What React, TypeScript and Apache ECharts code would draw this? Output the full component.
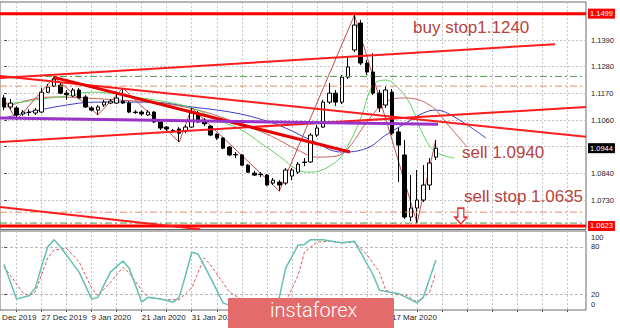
import React, { useEffect, useRef } from "react";
import * as echarts from "echarts";

// ---------- data ----------
const dates = [
  "18 Dec 2019", "19 Dec 2019", "20 Dec 2019", "23 Dec 2019", "24 Dec 2019", "26 Dec 2019",
  "27 Dec 2019", "30 Dec 2019", "31 Dec 2019", "2 Jan 2020", "3 Jan 2020", "6 Jan 2020",
  "7 Jan 2020", "8 Jan 2020", "9 Jan 2020", "10 Jan 2020", "13 Jan 2020", "14 Jan 2020",
  "15 Jan 2020", "16 Jan 2020", "17 Jan 2020", "20 Jan 2020", "21 Jan 2020", "22 Jan 2020",
  "23 Jan 2020", "24 Jan 2020", "27 Jan 2020", "28 Jan 2020", "29 Jan 2020", "30 Jan 2020",
  "31 Jan 2020", "3 Feb 2020", "4 Feb 2020", "5 Feb 2020", "6 Feb 2020", "7 Feb 2020",
  "10 Feb 2020", "11 Feb 2020", "12 Feb 2020", "13 Feb 2020", "14 Feb 2020", "17 Feb 2020",
  "18 Feb 2020", "19 Feb 2020", "20 Feb 2020", "21 Feb 2020", "24 Feb 2020", "25 Feb 2020",
  "26 Feb 2020", "27 Feb 2020", "28 Feb 2020", "2 Mar 2020", "3 Mar 2020", "4 Mar 2020",
  "5 Mar 2020", "6 Mar 2020", "9 Mar 2020", "10 Mar 2020", "11 Mar 2020", "12 Mar 2020",
  "13 Mar 2020", "16 Mar 2020", "17 Mar 2020", "18 Mar 2020", "19 Mar 2020", "20 Mar 2020",
  "23 Mar 2020", "24 Mar 2020", "25 Mar 2020", "26 Mar 2020",
];

const opens = [
  1.1151, 1.1114, 1.1110, 1.1085, 1.1091, 1.1089, 1.1093, 1.1175, 1.1200, 1.1204,
  1.1171, 1.1159, 1.1184, 1.1155, 1.1110, 1.1101, 1.1122, 1.1130, 1.1130, 1.1138,
  1.1130, 1.1093, 1.1093, 1.1081, 1.1093, 1.1052, 1.1031, 1.1017, 1.1023, 1.1015,
  1.1031, 1.1089, 1.1060, 1.1035, 1.1002, 1.0986, 1.0949, 1.0918, 1.0916, 1.0874,
  1.0841, 1.0837, 1.0833, 1.0800, 1.0804, 1.0800, 1.0829, 1.0845, 1.0885, 1.0887,
  1.0998, 1.1031, 1.1134, 1.1171, 1.1134, 1.1237, 1.1349, 1.1460, 1.1295, 1.1258,
  1.1171, 1.1122, 1.1175, 1.1011, 1.0916, 1.0660, 1.0697, 1.0730, 1.0792, 1.0907,
];
const closes = [
  1.1114, 1.1130, 1.1081, 1.1093, 1.1093, 1.1101, 1.1175, 1.1196, 1.1229, 1.1171,
  1.1165, 1.1184, 1.1151, 1.1114, 1.1101, 1.1114, 1.1134, 1.1138, 1.1151, 1.1130,
  1.1093, 1.1091, 1.1085, 1.1093, 1.1052, 1.1027, 1.1023, 1.1015, 1.1006, 1.1031,
  1.1089, 1.1052, 1.1044, 1.0998, 1.0986, 1.0944, 1.0916, 1.0916, 1.0874, 1.0845,
  1.0833, 1.0835, 1.0792, 1.0812, 1.0792, 1.0854, 1.0854, 1.0878, 1.0887, 1.0998,
  1.1027, 1.1134, 1.1171, 1.1134, 1.1237, 1.1279, 1.1452, 1.1295, 1.1258, 1.1171,
  1.1110, 1.1184, 1.1006, 1.0957, 1.0660, 1.0697, 1.0730, 1.0792, 1.0883, 1.0944,
];
const lows = [
  1.1101, 1.1105, 1.1060, 1.1077, 1.1077, 1.1081, 1.1089, 1.1171, 1.1196, 1.1167,
  1.1143, 1.1155, 1.1147, 1.1110, 1.1097, 1.1081, 1.1114, 1.1126, 1.1126, 1.1126,
  1.1089, 1.1085, 1.1077, 1.1077, 1.1048, 1.1019, 1.1015, 1.1006, 1.0969, 1.1006,
  1.1027, 1.1048, 1.1035, 1.0994, 1.0978, 1.0940, 1.0911, 1.0903, 1.0870, 1.0841,
  1.0829, 1.0825, 1.0788, 1.0792, 1.0767, 1.0792, 1.0812, 1.0837, 1.0870, 1.0883,
  1.0990, 1.1027, 1.1126, 1.1118, 1.1126, 1.1229, 1.1341, 1.1287, 1.1246, 1.1163,
  1.1093, 1.1110, 1.0998, 1.0804, 1.0652, 1.0643, 1.0635, 1.0722, 1.0771, 1.0895,
];
const highs = [
  1.1163, 1.1147, 1.1118, 1.1101, 1.1105, 1.1110, 1.1192, 1.1209, 1.1237, 1.1217,
  1.1184, 1.1192, 1.1192, 1.1163, 1.1118, 1.1122, 1.1143, 1.1147, 1.1167, 1.1192,
  1.1138, 1.1101, 1.1101, 1.1101, 1.1097, 1.1056, 1.1035, 1.1023, 1.1031, 1.1039,
  1.1110, 1.1097, 1.1068, 1.1039, 1.1006, 1.0990, 1.0953, 1.0928, 1.0920, 1.0878,
  1.0850, 1.0845, 1.0837, 1.0821, 1.0812, 1.0862, 1.0862, 1.0887, 1.0903, 1.1006,
  1.1039, 1.1143, 1.1213, 1.1184, 1.1246, 1.1320, 1.1493, 1.1473, 1.1308, 1.1336,
  1.1184, 1.1200, 1.1188, 1.1027, 1.0978, 1.0833, 1.0854, 1.0874, 1.0903, 1.0978,
];

// Alligator lines (bar index, price), extend into the future (shifted)
const lipsGreen = [
  [0, 1.1126], [3, 1.1134], [6, 1.1147], [10, 1.1159], [14, 1.1175], [17, 1.1171],
  [21, 1.1155], [24, 1.1143], [27, 1.1130], [30, 1.1110], [33, 1.1077], [35, 1.1052],
  [38, 1.1019], [41, 1.0965], [44, 1.0911], [47, 1.0854], [49, 1.0845], [53, 1.0887],
  [55, 1.0957], [57, 1.1068], [59, 1.1204], [61, 1.1225], [63, 1.1192], [65, 1.1122],
  [67, 1.0998], [69, 1.0928], [72, 1.0903],
];
const teethRed = [
  [0, 1.1110], [4, 1.1143], [8, 1.1155], [13, 1.1151], [18, 1.1143], [25, 1.1130],
  [31, 1.1101], [36, 1.1060], [42, 1.1002], [47, 1.0936], [50, 1.0907], [53, 1.0911],
  [55, 1.0944], [58, 1.1052], [61, 1.1134], [64, 1.1151], [68, 1.1122], [71, 1.1039],
  [74, 1.0949],
];
const jawBlue = [
  [0, 1.1068], [2, 1.1081], [10, 1.1122], [15, 1.1134], [23, 1.1134], [30, 1.1114],
  [37, 1.1089], [42, 1.1056], [45, 1.1027], [49, 1.0978], [54, 1.0928], [58, 1.0944],
  [61, 1.0998], [64, 1.1044], [67, 1.1089], [69, 1.1101], [72, 1.1072], [77, 1.0986],
];
const zigzag = [
  [0, 1.1147], [2, 1.1060], [8, 1.1237], [15, 1.1081], [19, 1.1192], [28, 1.0969],
  [30, 1.1110], [44, 1.0767], [56, 1.1493], [66, 1.0635], [69, 1.0978],
];

// Trend lines (bar, price) -> (bar, price)
const redTrendLines = [
  [[-0.64, 1.1233], [88.05, 1.1373]],
  [[-0.64, 1.1242], [93, 1.0991]],
  [[-0.64, 1.0969], [93, 1.1114]],
  [[-0.64, 1.0701], [31.3, 1.0610]],
];
const mainDownTrend = [[7.83, 1.1237], [55.29, 1.0928]];
const purpleLine = [[-0.64, 1.1068], [69.35, 1.1043]];

// Horizontal levels
const boxLevels = [1.1499, 1.0623];
const lastPrice = 1.0944;
const greenLevels = [1.1240, 1.0635];
const orangeLevels = [1.1200, 1.0680];

// Annotations (text, bar, price)
const notes = [
  ["buy stop1.1240", 65.36, 1.1440],
  ["sell 1.0940", 73.2, 1.0928],
  ["sell stop 1.0635", 73.5, 1.0746],
];
const arrowAt = [73.0, 1.0664];

// Stochastic (bar, value)
const stochMain = [
  [0, 58], [2, 14], [4, 18], [5, 28], [6, 55], [7, 80], [8, 89], [9, 80], [12, 48],
  [14, 14], [15, 16], [17, 48], [19, 62], [20, 53], [22, 10], [23, 16], [25, 14],
  [27, 10], [28, 16], [29, 44], [30, 73], [31, 71], [33, 41], [35, 9], [37, 3],
  [40, 2], [43, 5], [44, 16], [45, 53], [47, 82], [48, 83], [49, 89], [51, 89],
  [53, 86], [54, 85], [56, 87], [57, 73], [59, 44], [60, 25], [62, 22], [63, 21],
  [66, 9], [67, 16], [69, 63],
];
const stochSignal = [
  [0, 55], [1, 44], [3, 22], [4, 18], [5, 23], [7, 66], [8, 76], [10, 78], [12, 61],
  [14, 28], [15, 18], [17, 35], [19, 54], [20, 47], [22, 25], [23, 16], [26, 13],
  [28, 13], [30, 28], [32, 66], [33, 57], [36, 23], [39, 8], [42, 4], [45, 10],
  [47, 44], [48, 73], [50, 86], [52, 87], [54, 85], [56, 86], [58, 70], [60, 48],
  [61, 25], [63, 19], [64, 20], [66, 10], [68, 22], [69, 47],
];

// Axis ticks
const priceGrid = [1.073, 1.084, 1.095, 1.106, 1.117, 1.128, 1.139];
const priceLabels = [1.073, 1.084, 1.106, 1.117, 1.128, 1.139];
const gridBars = [2, 6, 10, 14, 18, 22, 26, 30, 34, 38, 42, 46, 50, 54, 58, 62, 66, 70, 74, 78, 82, 86, 90];
// visible date labels (those under the watermark are hidden in the source)
const tickBars = [6, 14, 22, 30, 62];
const firstLabel = "16 Dec 2019";
const stochLevels = [20, 80];
const stochTopLabel = "100";
const stochBottomLabel = "0";

// ---------- layout constants ----------
const X_MIN = -0.64;
const X_MAX = 93;
const FONT = "'Liberation Sans', Arial, sans-serif";
const NOTE_COLOR = "#b8433f";

function seg(points: any[], color: string, width: number, extra: any = {}) {
  return {
    type: "line",
    xAxisIndex: 0,
    yAxisIndex: 0,
    data: points,
    showSymbol: false,
    symbol: "none",
    silent: true,
    lineStyle: { color, width, ...extra },
    z: 5,
  };
}

function level(v: number, color: string, width: number, type: any, box?: { bg: string }) {
  const s: any = seg([[X_MIN, v], [X_MAX, v]], color, width, { type });
  s.z = 4;
  if (box) {
    s.endLabel = {
      show: true,
      formatter: v.toFixed(4),
      backgroundColor: box.bg,
      color: "#fff",
      fontSize: 7.5,
      fontFamily: FONT,
      padding: [1, 2, 1, 2],
      distance: 2,
    };
  }
  return s;
}

export default function App() {
  const ref = useRef<HTMLDivElement>(null);

  useEffect(() => {
    document.body.style.margin = "0";
    if (!ref.current) return;
    const chart = echarts.init(ref.current, null, { renderer: "svg" });

    const candleData = dates.map((d, i) => [i, opens[i], closes[i], lows[i], highs[i]]);

    const markPoints: any[] = notes.map(([t, b, p]) => ({
      coord: [b, p],
      symbol: "circle",
      symbolSize: 0,
      label: {
        show: true,
        position: "right",
        distance: 0,
        formatter: t as string,
        fontSize: 17,
        color: NOTE_COLOR,
        fontFamily: FONT,
      },
    }));
    markPoints.push({
      coord: arrowAt,
      symbol: "path://M3,0 L9,0 L9,9 L12,9 L6,16 L0,9 L3,9 Z",
      symbolSize: [12, 16],
      itemStyle: { color: "#fff", borderColor: "#e23a3a", borderWidth: 1.5 },
      label: { show: false },
    });

    const levelSeries: any[] = [
      ...greenLevels.map((v) => level(v, "#4f9a4f", 1, [7, 3, 2, 3])),
      ...orangeLevels.map((v) => level(v, "#dc9264", 1, [7, 3, 2, 3])),
      ...boxLevels.map((v) => level(v, "#ff0000", 3, "solid", { bg: "#ff0000" })),
    ];
    const lastSeries = level(lastPrice, "#000", 0, "solid", { bg: "#000000" });
    lastSeries.lineStyle.opacity = 0;
    levelSeries.push(lastSeries);

    const axisText = { fontSize: 7.5, color: "#222", margin: 5 };
    const edgeText = { fontSize: 7.5, fill: "#222", fontFamily: FONT, verticalAlign: "middle" };

    const option: any = {
      animation: false,
      backgroundColor: "#ffffff",
      textStyle: { fontFamily: FONT },
      grid: [
        { left: 0, right: 34, top: 2, height: 227.5, show: true, borderColor: "#6a6a6a", borderWidth: 1 },
        { left: 0, right: 34, top: 231, height: 79, show: true, borderColor: "#6a6a6a", borderWidth: 1 },
      ],
      xAxis: [
        {
          gridIndex: 0,
          type: "value",
          min: X_MIN,
          max: X_MAX,
          axisLine: { show: false },
          axisLabel: { show: false },
          axisTick: { show: false, customValues: gridBars },
          splitLine: { show: true, lineStyle: { color: "#c4c4c4", type: [2, 2], width: 1 } },
        },
        {
          gridIndex: 1,
          type: "value",
          min: X_MIN,
          max: X_MAX,
          axisLine: { show: false },
          axisTick: { show: true, customValues: gridBars, length: 2, lineStyle: { color: "#555" } },
          axisLabel: {
            customValues: tickBars,
            formatter: (v: number) => dates[Math.round(v)] ?? "",
            align: "left",
            fontSize: 8,
            color: "#222",
            margin: 3,
            hideOverlap: false,
          },
          splitLine: { show: true, lineStyle: { color: "#c4c4c4", type: [2, 2], width: 1 } },
        },
      ],
      yAxis: [
        {
          gridIndex: 0,
          type: "value",
          position: "right",
          min: 1.06085,
          max: 1.1547,
          axisLine: { show: false },
          axisTick: { show: true, customValues: priceGrid, length: 3, lineStyle: { color: "#555" } },
          axisLabel: {
            ...axisText,
            customValues: priceLabels,
            formatter: (v: number) => v.toFixed(4),
          },
          splitLine: { show: true, lineStyle: { color: "#c4c4c4", type: [2, 2], width: 1 } },
        },
        {
          gridIndex: 1,
          type: "value",
          position: "right",
          min: 0,
          max: 100,
          axisLine: { show: false },
          axisTick: { show: true, customValues: stochLevels, length: 3, lineStyle: { color: "#555" } },
          axisLabel: { ...axisText, customValues: stochLevels },
          splitLine: { show: true, lineStyle: { color: "#b8b8b8", type: [3, 2], width: 1 } },
        },
      ],
      series: [
        ...levelSeries,
        { ...seg(jawBlue, "#3c3cc8", 1), smooth: 0.4, z: 2 },
        { ...seg(teethRed, "#c8605a", 1), smooth: 0.4, z: 2 },
        { ...seg(lipsGreen, "#5fd35f", 1), smooth: 0.4, z: 2 },
        { ...seg(zigzag, "#c84848", 1), z: 2 },
        {
          type: "candlestick",
          xAxisIndex: 0,
          yAxisIndex: 0,
          data: candleData,
          encode: { x: 0, y: [1, 2, 3, 4] },
          barWidth: 4,
          z: 3,
          itemStyle: {
            color: "#ffffff",
            color0: "#000000",
            borderColor: "#000000",
            borderColor0: "#000000",
            borderWidth: 1,
          },
          markPoint: {
            silent: true,
            animation: false,
            data: markPoints,
            z: 10,
          },
        },
        ...redTrendLines.map((l) => seg(l, "#ff1c1c", 2)),
        seg(mainDownTrend, "#e80000", 3),
        seg(purpleLine, "#9a34c8", 3),
        {
          type: "line",
          xAxisIndex: 1,
          yAxisIndex: 1,
          data: stochSignal,
          showSymbol: false,
          symbol: "none",
          silent: true,
          lineStyle: { color: "#d45a5a", width: 1, type: [3, 2] },
        },
        {
          type: "line",
          xAxisIndex: 1,
          yAxisIndex: 1,
          data: stochMain,
          showSymbol: false,
          symbol: "none",
          silent: true,
          lineStyle: { color: "#62c0b4", width: 1.5 },
        },
      ],
      graphic: [
        {
          type: "text",
          left: -9,
          top: 313,
          silent: true,
          style: { text: firstLabel, fontSize: 8, fill: "#222", fontFamily: FONT },
        },
        {
          type: "text",
          x: 591,
          y: 237,
          silent: true,
          style: { ...edgeText, text: stochTopLabel },
        },
        {
          type: "text",
          x: 591,
          y: 304,
          silent: true,
          style: { ...edgeText, text: stochBottomLabel },
        },
        {
          type: "rect",
          left: 228,
          top: 298,
          z: 100,
          shape: { x: 0, y: 0, width: 166, height: 30 },
          style: { fill: "#e36b6b" },
        },
        {
          type: "text",
          left: 270,
          top: 300,
          z: 101,
          style: {
            text: "instaforex",
            fill: "#ffffff",
            fontSize: 20,
            fontFamily: "Roboto, 'Liberation Sans', sans-serif",
            fontWeight: 300,
          },
        },
      ],
    };

    chart.setOption(option);
    return () => chart.dispose();
  }, []);

  return <div ref={ref} style={{ width: 620, height: 328 }} />;
}
